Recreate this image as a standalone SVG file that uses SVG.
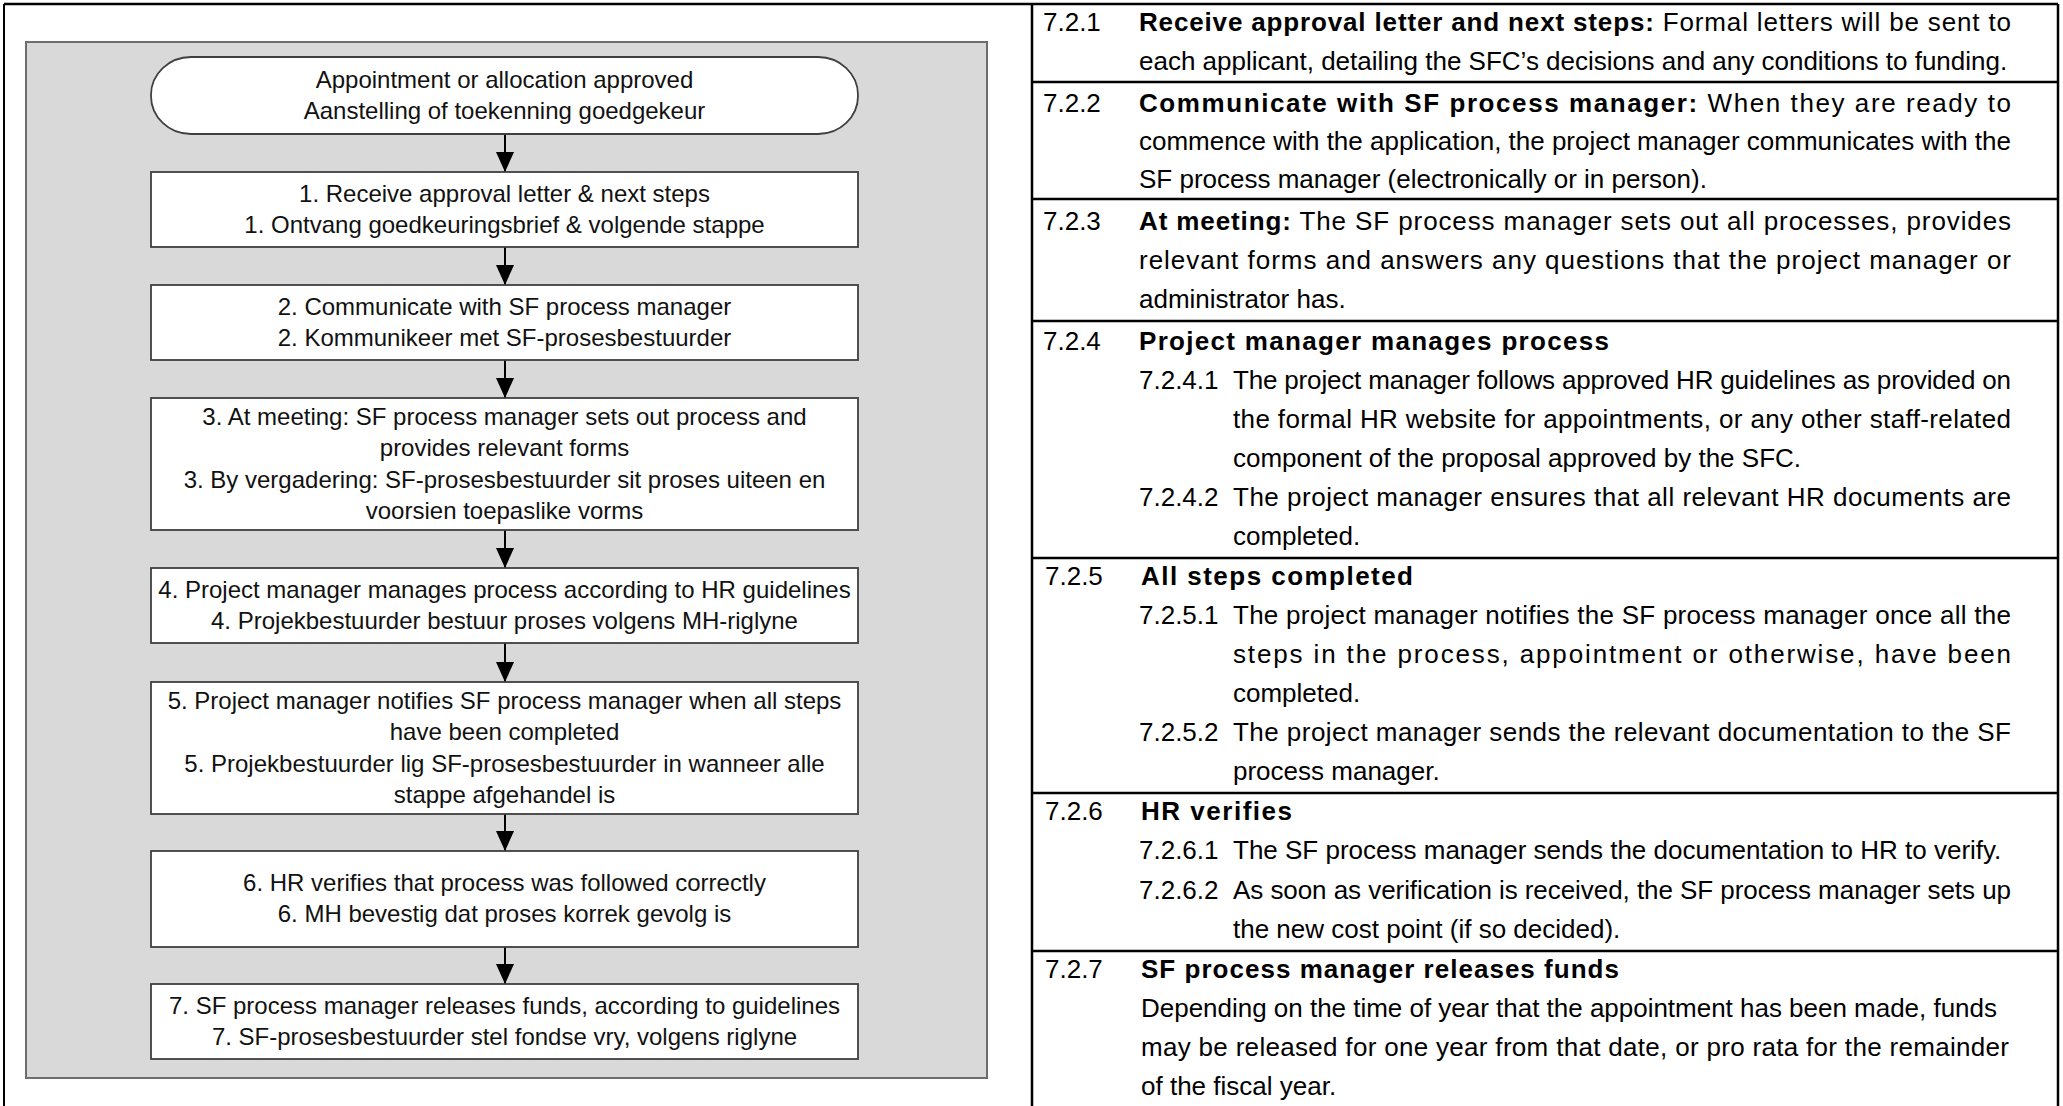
<svg xmlns="http://www.w3.org/2000/svg" width="2063" height="1106" viewBox="0 0 2063 1106">
<style>
.frame{fill:none;stroke:#000;stroke-width:2.5}
.thin{fill:none;stroke:#000;stroke-width:2}
.panel{fill:#d9d9d9;stroke:#6d6d6d;stroke-width:2}
.box{fill:#fff;stroke:#3f3f3f;stroke-width:1.8}
.ft{font-family:"Liberation Sans",Arial,sans-serif;font-size:24px;fill:#111;text-anchor:middle}
.conn{stroke:#000;stroke-width:2;fill:none}
.tt{font-family:"Liberation Sans",Arial,sans-serif;font-size:26px;fill:#000}
.b{font-weight:bold}
</style>
<defs>
<marker id="ah" markerUnits="userSpaceOnUse" markerWidth="20" markerHeight="18" refX="20" refY="9" orient="auto">
<path d="M0,0 L20,9 L0,18 z" fill="#000"/>
</marker>
</defs>
<rect width="2063" height="1106" fill="#fff"/>

<g id="frame">
<line class="thin" x1="4" y1="4" x2="4" y2="1106"/>
<line class="frame" x1="4" y1="4" x2="2058" y2="4"/>
<line class="frame" x1="1032" y1="4" x2="1032" y2="1106"/>
<line class="frame" x1="2058" y1="4" x2="2058" y2="1106"/>
<line class="frame" x1="1032" y1="82" x2="2058" y2="82"/>
<line class="frame" x1="1032" y1="199" x2="2058" y2="199"/>
<line class="frame" x1="1032" y1="321" x2="2058" y2="321"/>
<line class="frame" x1="1032" y1="558" x2="2058" y2="558"/>
<line class="frame" x1="1032" y1="793" x2="2058" y2="793"/>
<line class="frame" x1="1032" y1="951" x2="2058" y2="951"/>
</g>

<rect id="panel" class="panel" x="26" y="42" width="961" height="1036"/>

<g id="connectors">
<line class="conn" x1="505" y1="134" x2="505" y2="172" marker-end="url(#ah)"/>
<line class="conn" x1="505" y1="247" x2="505" y2="285" marker-end="url(#ah)"/>
<line class="conn" x1="505" y1="360" x2="505" y2="398" marker-end="url(#ah)"/>
<line class="conn" x1="505" y1="530" x2="505" y2="568" marker-end="url(#ah)"/>
<line class="conn" x1="505" y1="643" x2="505" y2="682" marker-end="url(#ah)"/>
<line class="conn" x1="505" y1="814" x2="505" y2="851" marker-end="url(#ah)"/>
<line class="conn" x1="505" y1="947" x2="505" y2="984" marker-end="url(#ah)"/>
</g>

<g id="start">
<rect class="box" x="151" y="57" width="707" height="77" rx="40" ry="38"/>
<text class="ft" x="504.5" y="88">Appointment or allocation approved</text>
<text class="ft" x="504.5" y="119">Aanstelling of toekenning goedgekeur</text>
</g>
<g id="step1">
<rect class="box" x="151" y="172" width="707" height="75"/>
<text class="ft" x="504.5" y="202">1. Receive approval letter &amp; next steps</text>
<text class="ft" x="504.5" y="233">1. Ontvang goedkeuringsbrief &amp; volgende stappe</text>
</g>
<g id="step2">
<rect class="box" x="151" y="285" width="707" height="75"/>
<text class="ft" x="504.5" y="315">2. Communicate with SF process manager</text>
<text class="ft" x="504.5" y="346">2. Kommunikeer met SF-prosesbestuurder</text>
</g>
<g id="step3">
<rect class="box" x="151" y="398" width="707" height="132"/>
<text class="ft" x="504.5" y="425">3. At meeting: SF process manager sets out process and</text>
<text class="ft" x="504.5" y="456">provides relevant forms</text>
<text class="ft" x="504.5" y="488">3. By vergadering: SF-prosesbestuurder sit proses uiteen en</text>
<text class="ft" x="504.5" y="519">voorsien toepaslike vorms</text>
</g>
<g id="step4">
<rect class="box" x="151" y="568" width="707" height="75"/>
<text class="ft" x="504.5" y="598">4. Project manager manages process according to HR guidelines</text>
<text class="ft" x="504.5" y="629">4. Projekbestuurder bestuur proses volgens MH-riglyne</text>
</g>
<g id="step5">
<rect class="box" x="151" y="682" width="707" height="132"/>
<text class="ft" x="504.5" y="709">5. Project manager notifies SF process manager when all steps</text>
<text class="ft" x="504.5" y="740">have been completed</text>
<text class="ft" x="504.5" y="772">5. Projekbestuurder lig SF-prosesbestuurder in wanneer alle</text>
<text class="ft" x="504.5" y="803">stappe afgehandel is</text>
</g>
<g id="step6">
<rect class="box" x="151" y="851" width="707" height="96"/>
<text class="ft" x="504.5" y="891">6. HR verifies that process was followed correctly</text>
<text class="ft" x="504.5" y="922">6. MH bevestig dat proses korrek gevolg is</text>
</g>
<g id="step7">
<rect class="box" x="151" y="984" width="707" height="75"/>
<text class="ft" x="504.5" y="1014">7. SF process manager releases funds, according to guidelines</text>
<text class="ft" x="504.5" y="1045">7. SF-prosesbestuurder stel fondse vry, volgens riglyne</text>
</g>

<g id="table">
<g id="r721">
<text class="tt" x="1043" y="31">7.2.1</text>
<text class="tt" x="1139" y="31" textLength="872" lengthAdjust="spacing"><tspan class="b">Receive approval letter and next steps:</tspan> Formal letters will be sent to</text>
<text class="tt" x="1139" y="70">each applicant, detailing the SFC’s decisions and any conditions to funding.</text>
</g>
<g id="r722">
<text class="tt" x="1043" y="112">7.2.2</text>
<text class="tt" x="1139" y="112" textLength="872" lengthAdjust="spacing"><tspan class="b">Communicate with SF process manager:</tspan> When they are ready to</text>
<text class="tt" x="1139" y="150" textLength="872" lengthAdjust="spacing">commence with the application, the project manager communicates with the</text>
<text class="tt" x="1139" y="188">SF process manager (electronically or in person).</text>
</g>
<g id="r723">
<text class="tt" x="1043" y="230">7.2.3</text>
<text class="tt" x="1139" y="230" textLength="872" lengthAdjust="spacing"><tspan class="b">At meeting:</tspan> The SF process manager sets out all processes, provides</text>
<text class="tt" x="1139" y="269" textLength="872" lengthAdjust="spacing">relevant forms and answers any questions that the project manager or</text>
<text class="tt" x="1139" y="308">administrator has.</text>
</g>
<g id="r724">
<text class="tt" x="1043" y="350">7.2.4</text>
<text class="tt b" x="1139" y="350" textLength="470" lengthAdjust="spacing">Project manager manages process</text>
<text class="tt" x="1139" y="389">7.2.4.1</text>
<text class="tt" x="1233" y="389" textLength="778" lengthAdjust="spacing">The project manager follows approved HR guidelines as provided on</text>
<text class="tt" x="1233" y="428" textLength="778" lengthAdjust="spacing">the formal HR website for appointments, or any other staff-related</text>
<text class="tt" x="1233" y="467">component of the proposal approved by the SFC.</text>
<text class="tt" x="1139" y="506">7.2.4.2</text>
<text class="tt" x="1233" y="506" textLength="778" lengthAdjust="spacing">The project manager ensures that all relevant HR documents are</text>
<text class="tt" x="1233" y="545">completed.</text>
</g>
<g id="r725">
<text class="tt" x="1045" y="585">7.2.5</text>
<text class="tt b" x="1141" y="585" textLength="272" lengthAdjust="spacing">All steps completed</text>
<text class="tt" x="1139" y="624">7.2.5.1</text>
<text class="tt" x="1233" y="624" textLength="778" lengthAdjust="spacing">The project manager notifies the SF process manager once all the</text>
<text class="tt" x="1233" y="663" textLength="778" lengthAdjust="spacing">steps in the process, appointment or otherwise, have been</text>
<text class="tt" x="1233" y="702">completed.</text>
<text class="tt" x="1139" y="741">7.2.5.2</text>
<text class="tt" x="1233" y="741" textLength="778" lengthAdjust="spacing">The project manager sends the relevant documentation to the SF</text>
<text class="tt" x="1233" y="780">process manager.</text>
</g>
<g id="r726">
<text class="tt" x="1045" y="820">7.2.6</text>
<text class="tt b" x="1141" y="820" textLength="151" lengthAdjust="spacing">HR verifies</text>
<text class="tt" x="1139" y="859">7.2.6.1</text>
<text class="tt" x="1233" y="859">The SF process manager sends the documentation to HR to verify.</text>
<text class="tt" x="1139" y="899">7.2.6.2</text>
<text class="tt" x="1233" y="899" textLength="778" lengthAdjust="spacing">As soon as verification is received, the SF process manager sets up</text>
<text class="tt" x="1233" y="938">the new cost point (if so decided).</text>
</g>
<g id="r727">
<text class="tt" x="1045" y="978">7.2.7</text>
<text class="tt b" x="1141" y="978" textLength="478" lengthAdjust="spacing">SF process manager releases funds</text>
<text class="tt" x="1141" y="1017" textLength="856" lengthAdjust="spacing">Depending on the time of year that the appointment has been made, funds</text>
<text class="tt" x="1141" y="1056" textLength="868" lengthAdjust="spacing">may be released for one year from that date, or pro rata for the remainder</text>
<text class="tt" x="1141" y="1095">of the fiscal year.</text>
</g>
</g>
</svg>
